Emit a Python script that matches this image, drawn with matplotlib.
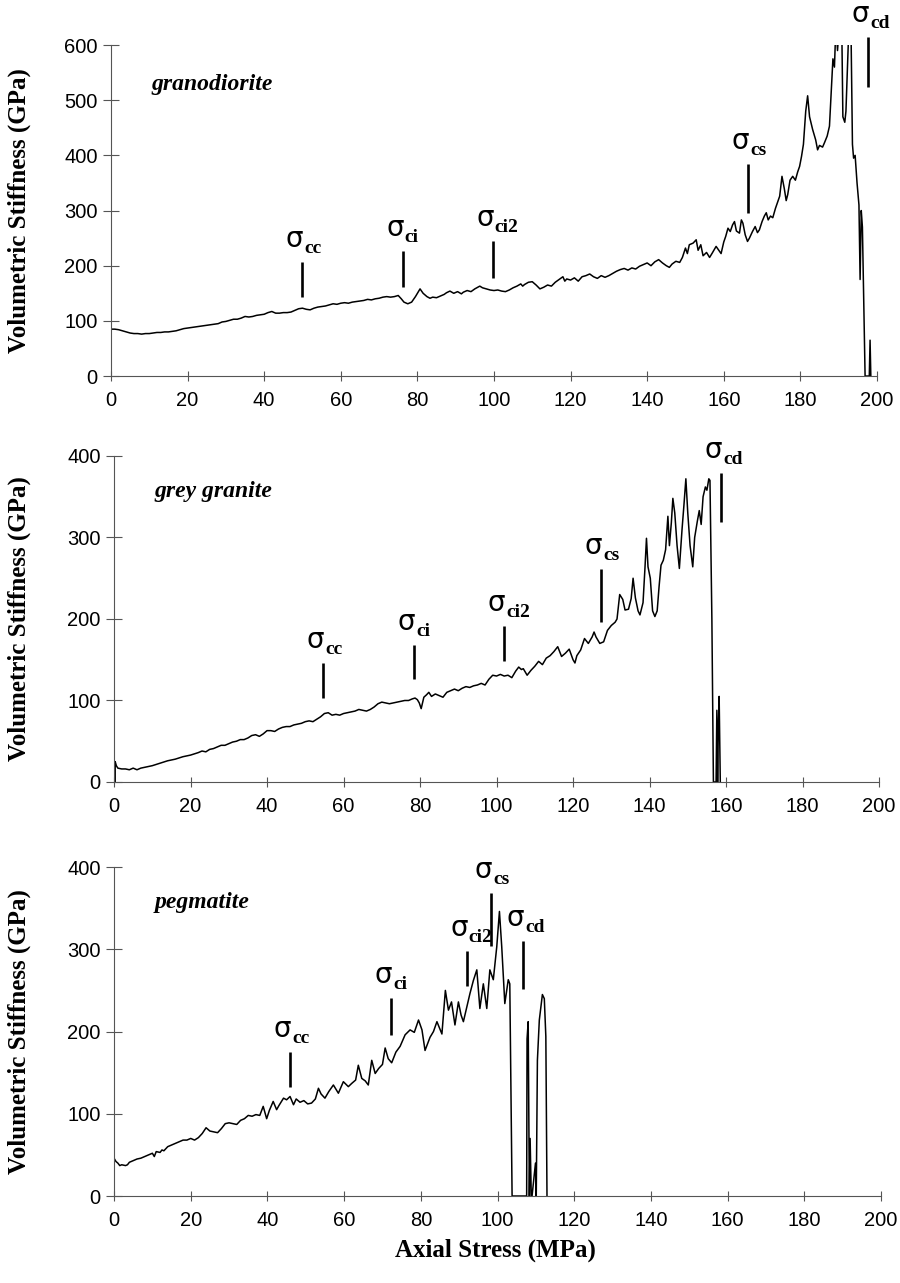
import matplotlib
matplotlib.use("Agg")
import matplotlib.pyplot as plt

# ---- data -------------------------------------------------------------------
gran_x = [0, 1, 2, 3, 4, 5, 6, 7, 8, 9, 10, 11, 12, 13, 14, 15, 16, 17, 18, 19, 20,
          21, 22, 23, 24, 25, 26, 27, 28, 29, 30, 31, 32, 33, 34, 35, 36, 37, 38, 39, 40,
          41, 42, 43, 44, 45, 46, 47, 48, 49, 50, 51, 52, 53, 54, 55, 56, 57, 58, 59, 60,
          61, 62, 63, 64, 65, 66, 67, 68, 69, 70, 71, 72, 73, 74, 75, 75.8, 76.5, 77.5,
          78.5, 79.5, 80.7, 81.5, 82.5, 83.3, 84, 85, 86, 87, 87.6, 88.5, 89.5, 90.5, 91.5,
          92, 93, 94, 95, 96.3, 97, 98, 99, 100, 101, 102, 103, 104, 105, 106, 107, 107.5,
          108, 109, 110, 111, 112, 113, 114, 115, 116, 117, 118, 118.5, 119, 120, 121, 122,
          123, 124, 125, 126, 127, 128, 129, 130, 131, 132, 133, 134, 135, 136, 137, 138,
          139, 140, 141, 142, 143, 144, 145, 145.8, 146.5, 147.5, 148.5, 149.2, 150, 150.5,
          151, 152, 152.8, 153.3, 154, 154.6, 155.5, 156.3, 157, 158, 158.7, 159.3, 160,
          160.5, 161.1, 161.7, 162.3, 162.8, 163.3, 164.1, 164.6, 165, 165.6, 166.2, 166.7,
          167.5, 168.2, 168.8, 169.3, 170, 170.6, 171.1, 171.6, 172.2, 172.8, 173.5, 174.2,
          174.6, 175.2, 175.8, 176.3, 176.7, 177.3, 178, 178.7, 179.3, 179.8, 180.3, 180.8,
          181.4, 181.9, 182.4, 183.2, 184, 184.5, 185, 185.8, 186.3, 187, 187.6, 188.1,
          188.5, 188.9, 189.3, 189.7, 190.2, 190.8, 191.1, 191.6, 191.9, 192.3, 192.7,
          193.2, 193.6, 193.9, 194.3, 194.8, 195.3, 195.6, 195.9, 196.2, 196.6, 196.9,
          197.4, 198.0, 198.2, 198.4]
gran_y = [85, 85, 84, 82, 80, 78, 77, 77, 76, 77, 77, 78, 79, 79, 80, 80, 81, 82, 84, 86, 87,
          88, 89, 90, 91, 92, 93, 94, 95, 98, 99, 101, 103, 103, 105, 108, 107, 108, 110, 111,
          112, 115, 117, 114, 114, 115, 115, 116, 119, 122, 123, 121, 120, 123, 125, 126, 127,
          129, 131, 130, 132, 133, 132, 134, 135, 136, 137, 139, 138, 140, 141, 143, 144, 143,
          144, 146, 140, 134, 131, 134, 144, 158, 150, 144, 141, 143, 142, 145, 148, 151, 154,
          150, 153, 149, 152, 155, 153, 158, 163, 160, 158, 156, 155, 156, 154, 153, 156, 160,
          163, 167, 163, 166, 170, 171, 165, 158, 161, 165, 163, 170, 175, 180, 172, 176, 174,
          178, 172, 180, 182, 185, 180, 177, 182, 179, 182, 186, 190, 193, 195, 192, 196, 194,
          199, 202, 205, 200, 207, 211, 205, 200, 197, 203, 208, 206, 215, 232, 222, 238, 241,
          247, 228, 238, 218, 224, 215, 223, 235, 228, 222, 243, 253, 268, 262, 274, 280, 263,
          259, 283, 277, 256, 244, 250, 262, 271, 260, 265, 280, 290, 296, 283, 290, 287, 304,
          318, 326, 362, 340, 318, 329, 355, 362, 355, 370, 380, 398, 420, 480, 508, 470, 447,
          428, 410, 418, 415, 423, 435, 453, 520, 575, 560, 640, 590, 640, 640, 470, 460, 480,
          560, 640, 640, 420, 395, 400, 350, 310, 175, 300, 270, 120, 0, 0, 0, 65, 0]

grey_x = [0.3, 0.3, 0.6, 1, 2, 3, 4, 5, 5.5, 6, 7, 8, 9, 10, 12, 14, 16, 18, 20, 22, 23, 24,
          25, 26, 27, 28, 29, 30, 31, 32, 33, 34, 35, 36, 37, 38, 39, 40, 41, 42, 43, 44, 45,
          46, 47, 48, 49, 50, 51, 52, 53, 54, 55, 56, 57, 58, 59, 60, 61, 62, 63, 64, 65, 66,
          67, 68, 69, 70, 71, 72, 73, 74, 75, 76, 77, 78, 78.7, 79.3, 79.8, 80.3, 81, 81.7,
          82.3, 83, 84, 85, 86, 87, 88, 89, 90, 91, 92, 93, 94, 95, 96, 97, 98, 99, 100, 101,
          102, 103, 104, 105, 105.8, 106.5, 107, 108, 109, 110, 111, 112, 113, 114, 115, 116,
          117, 118, 119, 120, 120.5, 121, 122, 123, 124, 125, 125.5, 126, 127, 128, 129, 130,
          131, 131.5, 132.2, 133, 133.6, 134.5, 135.2, 135.7, 136.3, 137, 137.5, 138.3, 138.8,
          139.2, 139.6, 140.2, 140.8, 141.4, 142, 142.5, 143, 143.6, 144.2, 144.8, 145.2,
          145.7, 146.1, 146.6, 147.2, 147.8, 148.5, 149.0, 149.5, 150.0, 150.6, 151.3, 151.8,
          152.5, 153, 153.5, 154, 154.6, 155.0, 155.5, 155.8, 156.3, 156.7, 157.4, 157.6,
          157.8, 158.0, 158.2, 158.5]
grey_y = [0, 25, 20, 17, 16, 16, 15, 17, 16, 15, 17, 18, 19, 20, 23, 26, 28, 31, 33, 36, 38,
          37, 40, 41, 43, 45, 45, 47, 49, 50, 52, 52, 54, 57, 58, 56, 59, 63, 63, 62, 65, 67,
          68, 68, 70, 71, 72, 74, 75, 74, 77, 80, 84, 85, 82, 83, 82, 84, 85, 86, 87, 89, 88,
          87, 89, 92, 96, 98, 97, 96, 97, 98, 99, 100, 100, 102, 103, 101, 97, 90, 104, 107,
          110, 105, 108, 106, 104, 110, 112, 114, 112, 115, 117, 116, 118, 119, 121, 119, 126,
          131, 130, 132, 130, 131, 128, 136, 141, 138, 139, 131, 137, 142, 148, 144, 152, 155,
          160, 166, 154, 158, 163, 150, 146, 155, 162, 176, 170, 178, 184, 178, 170, 172, 186,
          192, 196, 200, 230, 224, 211, 212, 225, 250, 226, 210, 205, 220, 262, 299, 264, 250,
          210, 203, 210, 240, 266, 272, 285, 326, 290, 318, 348, 330, 290, 262, 310, 340, 372,
          330, 290, 264, 300, 320, 333, 316, 350, 362, 358, 372, 370, 200, 0, 0, 88, 0, 70,
          105, 0]

peg_x = [0, 0.5, 1, 1.5, 2, 3, 3.5, 4, 5, 6, 7, 8, 9, 10, 10.5, 11, 12, 12.5, 13, 14, 15, 16,
         17, 18, 19, 20, 21, 22, 23, 24, 25, 26, 27, 28, 29, 30, 31, 32, 33, 34, 35, 36, 37,
         38, 38.9, 39.8, 40.5, 41.5, 42.4, 43, 44.2, 45, 45.9, 46.8, 47.5, 48.5, 49.5, 50.5,
         51.5, 52.5, 53.3, 54, 55, 56, 57.2, 58.5, 59.8, 61.1, 62, 63, 63.7, 64.6, 65.5, 66.3,
         67.2, 68.1, 69, 70, 70.7, 71.5, 72.4, 73.5, 74.6, 75.9, 77.2, 78.3, 79.4, 80.3, 81.1,
         82.4, 83.3, 84.2, 85.5, 86.4, 87.2, 88, 88.9, 89.8, 90.5, 91.1, 92, 92.8, 93.7, 94.6,
         95.4, 96.3, 97.2, 98, 98.9, 99.8, 100.5, 101.1, 101.9, 102.8, 103.2, 103.8, 107.6,
         107.7, 108.0, 108.3, 108.5, 108.8, 109.0, 109.9, 110.1, 110.4, 110.9, 111.7, 112.2,
         112.6, 112.9]
peg_y = [46, 42, 40, 37, 38, 37, 38, 41, 43, 45, 46, 48, 50, 52, 48, 54, 53, 56, 55, 60, 62,
         64, 66, 68, 68, 70, 68, 71, 76, 83, 79, 78, 77, 82, 88, 89, 88, 87, 92, 94, 98, 97, 99,
         98, 109, 94, 104, 115, 105, 110, 119, 117, 121, 111, 118, 114, 116, 112, 113, 118,
         131, 124, 119, 127, 135, 125, 139, 133, 137, 141, 159, 143, 140, 135, 165, 149, 155,
         160, 180, 167, 162, 175, 182, 196, 202, 199, 214, 202, 177, 193, 200, 212, 197, 250,
         226, 236, 208, 236, 220, 212, 230, 246, 262, 275, 228, 258, 228, 275, 263, 303, 346,
         303, 234, 263, 258, 0, 0, 191, 212, 0, 70, 0, 0, 40, 0, 165, 214, 245, 240, 194, 0]

# threshold markers: (subscript, stress, line bottom, line top)
gran_marks = [("cc", 50, 144, 207), ("ci", 76.2, 162, 226), ("ci2", 99.7, 178, 244),
              ("cs", 166.3, 296, 384), ("cd", 197.7, 524, 614)]
grey_marks = [("cc", 54.6, 103, 146), ("ci", 78.4, 126, 168), ("ci2", 102, 148, 191),
              ("cs", 127.3, 196, 261), ("cd", 158.7, 319, 379)]
peg_marks = [("cc", 45.9, 132, 175), ("ci", 72.2, 196, 241), ("ci2", 92, 255, 298),
             ("cs", 98.3, 304, 368), ("cd", 106.7, 252, 310)]

panels = [
    ("granodiorite", gran_x, gran_y, gran_marks, 600, [0.1233, 0.7069, 0.8511, 0.2580], 529),
    ("grey granite", grey_x, grey_y, grey_marks, 400, [0.1267, 0.3905, 0.8500, 0.2541], 356),
    ("pegmatite", peg_x, peg_y, peg_marks, 400, [0.1267, 0.0678, 0.8522, 0.2564], 357),
]

SERIF = "Liberation Serif"
SANS = "Liberation Sans"
AXC = "#555555"

fig = plt.figure(figsize=(9, 12.83), dpi=100)

for name, xs, ys, marks, ymax, pos, ytxt in panels:
    ax = fig.add_axes(pos)
    ax.plot(xs, ys, color="black", lw=1.1)
    ax.set_xlim(0, 200)
    ax.set_ylim(0, ymax)
    ax.set_xticks(range(0, 201, 20))
    ax.set_yticks(range(0, ymax + 1, 100))
    for s in ["top", "right"]:
        ax.spines[s].set_visible(False)
    for s in ["left", "bottom"]:
        ax.spines[s].set_color(AXC)
        ax.spines[s].set_linewidth(0.8)
        ax.spines[s].set_zorder(3)
    ax.tick_params(axis="y", direction="inout", length=11, width=0.8, color=AXC,
                   labelsize=14.5, pad=4)
    ax.tick_params(axis="x", direction="inout", length=7, width=0.8, color=AXC,
                   labelsize=14.5, pad=7)
    for lab in ax.get_xticklabels() + ax.get_yticklabels():
        lab.set_fontfamily(SANS)
    ax.text(10.5, ytxt, name, fontsize=17, fontfamily=SERIF, fontweight="bold",
            fontstyle="italic", va="center", ha="left")
    for sub, xm, y0, y1 in marks:
        ax.plot([xm, xm], [y0, y1], color="black", lw=1.9, clip_on=False,
                solid_capstyle="butt")
        ax.annotate("σ", xy=(xm, y1), xytext=(1, 15), textcoords="offset pixels",
                    ha="right", va="baseline", fontsize=20, fontfamily="DejaVu Sans",
                    annotation_clip=False)
        ax.annotate(sub, xy=(xm, y1), xytext=(2, 9), textcoords="offset pixels",
                    ha="left", va="baseline", fontsize=14, fontfamily=SERIF,
                    fontweight="bold", annotation_clip=False)
    ymid = pos[1] + pos[3] / 2
    fig.text(0.021, ymid, "Volumetric Stiffness (GPa)", rotation=90, ha="center",
             va="center", fontsize=18, fontfamily=SERIF, fontweight="bold")

fig.text(0.551, 1 - 1250 / 1283, "Axial Stress (MPa)", ha="center", va="center",
         fontsize=18, fontfamily=SERIF, fontweight="bold")

fig.savefig("out.png", dpi=100)
plt.close(fig)
